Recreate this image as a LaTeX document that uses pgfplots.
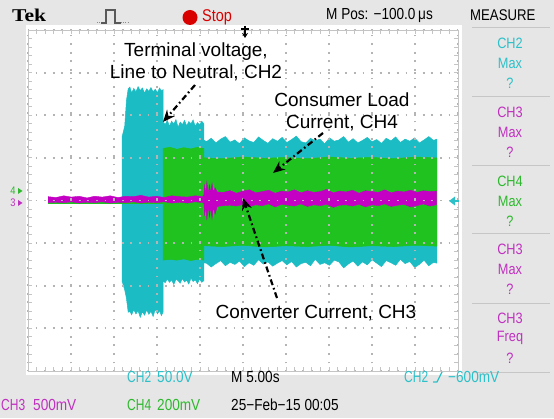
\documentclass[border=0pt]{standalone}
\usepackage{pgfplots}
\pgfplotsset{compat=1.18}
\usetikzlibrary{arrows.meta}
\usepackage{fontspec}
\setmainfont{Liberation Sans}
\newfontfamily\tekui[FakeStretch=0.85]{Liberation Sans}
\newfontfamily\tekch[FakeStretch=0.75]{Liberation Sans}
\newfontfamily\tekfont[FakeStretch=1.2]{Liberation Serif}
\definecolor{bggray}{HTML}{E6E6E6}
\definecolor{ch2}{HTML}{1CBCC4}
\definecolor{ch4}{HTML}{1FC21F}
\definecolor{ch3}{HTML}{C400C4}
\definecolor{ch2t}{HTML}{2CC0C8}
\definecolor{ch3t}{HTML}{C030C0}
\definecolor{ch4t}{HTML}{2DB82D}
\definecolor{gridc}{HTML}{C4C4C4}
\definecolor{dotc}{HTML}{B4B4B4}
\begin{document}
\begin{tikzpicture}[x=1pt,y=1pt]
\useasboundingbox (0,0) rectangle (554,418);
\fill[bggray] (0,0) rectangle (554,418);
\fill[white] (26,43) rectangle (462,393);
\begin{axis}[
  at={(28pt,47pt)}, anchor=south west, scale only axis,
  width=430pt, height=341pt,
  xmin=0, xmax=10, ymin=-4, ymax=4,
  xtick={0,...,10}, ytick={-4,...,4},
  minor x tick num=4, minor y tick num=4,
  xticklabels={}, yticklabels={},
  major tick length=4pt, minor tick length=4pt,
  tick style={draw=gridc, line width=0.9pt},
  axis line style={draw=gridc, line width=0.9pt},
  grid=major,
  major grid style={draw=dotc, line width=1.8pt, dash pattern=on 1.8pt off 6.8pt, dash phase=0.9pt},
  axis on top,
]
% CH2 terminal voltage envelope
\addplot[fill=ch2, draw=ch2, line width=0.5pt] coordinates {
(2.19,-1.9) (2.19,1.5) (2.25,1.75) (2.29,2.35) (2.33,2.62) (2.37,2.66) (2.41,2.52) (2.46,2.63) (2.51,2.55) (2.56,2.67) (2.61,2.58) (2.66,2.64) (2.71,2.52) (2.76,2.62) (2.81,2.56) (2.86,2.65) (2.91,2.55) (2.96,2.61) (3.01,2.53) (3.06,2.64) (3.10,2.57) (3.14,2.60)
(3.14,1.85) (3.19,1.78) (3.24,1.88) (3.29,1.74) (3.34,1.86) (3.39,1.79) (3.44,1.90) (3.49,1.72) (3.54,1.84) (3.59,1.78) (3.64,1.88) (3.69,1.75) (3.74,1.85) (3.79,1.80) (3.84,1.89) (3.89,1.74) (3.94,1.83) (3.99,1.77) (4.04,1.86) (4.09,1.80)
(4.09,1.42)
(4.15,1.38) (4.26,1.46) (4.37,1.35) (4.48,1.44) (4.59,1.50) (4.70,1.37) (4.81,1.42) (4.92,1.33) (5.03,1.47) (5.14,1.40)
(5.25,1.36) (5.36,1.49) (5.47,1.41) (5.58,1.34) (5.69,1.45) (5.80,1.39) (5.91,1.48) (6.02,1.36) (6.13,1.43) (6.24,1.51)
(6.35,1.38) (6.46,1.35) (6.57,1.46) (6.68,1.40) (6.79,1.44) (6.90,1.33) (7.01,1.47) (7.12,1.39) (7.23,1.42) (7.34,1.50)
(7.45,1.37) (7.56,1.45) (7.67,1.35) (7.78,1.41) (7.89,1.48) (8.00,1.38) (8.11,1.43) (8.22,1.34) (8.33,1.46) (8.44,1.40)
(8.55,1.49) (8.66,1.36) (8.77,1.44) (8.88,1.39) (8.99,1.47) (9.10,1.35) (9.21,1.42) (9.32,1.50) (9.43,1.41) (9.51,1.44)
(9.51,-1.47)
(9.43,-1.45) (9.32,-1.53) (9.21,-1.40) (9.10,-1.50) (8.99,-1.57) (8.88,-1.43) (8.77,-1.48) (8.66,-1.38) (8.55,-1.52) (8.44,-1.46)
(8.33,-1.41) (8.22,-1.55) (8.11,-1.47) (8.00,-1.39) (7.89,-1.51) (7.78,-1.44) (7.67,-1.54) (7.56,-1.42) (7.45,-1.49) (7.34,-1.58)
(7.23,-1.44) (7.12,-1.40) (7.01,-1.52) (6.90,-1.46) (6.79,-1.50) (6.68,-1.38) (6.57,-1.53) (6.46,-1.45) (6.35,-1.48) (6.24,-1.56)
(6.13,-1.43) (6.02,-1.51) (5.91,-1.41) (5.80,-1.47) (5.69,-1.54) (5.58,-1.44) (5.47,-1.49) (5.36,-1.39) (5.25,-1.52) (5.14,-1.46)
(5.03,-1.55) (4.92,-1.42) (4.81,-1.50) (4.70,-1.45) (4.59,-1.53) (4.48,-1.41) (4.37,-1.48) (4.26,-1.56) (4.15,-1.47)
(4.09,-1.46) (4.09,-1.88)
(4.04,-1.92) (3.99,-1.84) (3.94,-1.95) (3.89,-1.86) (3.84,-1.90) (3.79,-1.82) (3.74,-1.96) (3.69,-1.87) (3.64,-1.91) (3.59,-1.83) (3.54,-1.94) (3.49,-1.88) (3.44,-1.85) (3.39,-1.97) (3.34,-1.86) (3.29,-1.92) (3.24,-1.84) (3.19,-1.93) (3.14,-1.88)
(3.14,-2.62)
(3.10,-2.70) (3.06,-2.58) (3.01,-2.66) (2.96,-2.55) (2.91,-2.72) (2.86,-2.60) (2.81,-2.67) (2.76,-2.57) (2.71,-2.69) (2.66,-2.61) (2.61,-2.74) (2.56,-2.59) (2.51,-2.66) (2.46,-2.56) (2.41,-2.68) (2.37,-2.60) (2.33,-2.62) (2.29,-2.3) (2.25,-2.1)
} -- cycle;
% CH4 consumer load current envelope
\addplot[fill=ch4, draw=ch4, line width=0.5pt] coordinates {
(3.14,1.22) (3.30,1.25) (3.46,1.20) (3.62,1.24) (3.78,1.21) (3.94,1.25) (4.09,1.22)
(4.09,1.00) (4.50,0.98) (5.00,1.02) (5.50,0.99) (6.00,1.01) (6.50,0.98) (7.00,1.02) (7.50,0.99) (8.00,1.01) (8.50,0.98) (9.00,1.02) (9.51,1.00)
(9.51,-1.07) (9.00,-1.05) (8.50,-1.08) (8.00,-1.06) (7.50,-1.09) (7.00,-1.05) (6.50,-1.08) (6.00,-1.06) (5.50,-1.09) (5.00,-1.05) (4.50,-1.08) (4.09,-1.06)
(4.09,-1.40) (3.94,-1.38) (3.78,-1.41) (3.62,-1.37) (3.46,-1.40) (3.30,-1.38) (3.14,-1.40)
} -- cycle;
\addplot[draw=ch4, line width=2.6pt] coordinates {(0.47,-0.05) (3.14,-0.05)};
% CH3 converter current envelope
\addplot[fill=ch3, draw=ch3, line width=0.4pt] coordinates {
(0.47,0.09) (0.65,0.07) (0.83,0.11) (1.01,0.08) (1.19,0.10) (1.37,0.06) (1.55,0.10) (1.73,0.08) (1.91,0.11) (2.09,0.07) (2.27,0.10) (2.45,0.09) (2.63,0.12) (2.81,0.08) (2.99,0.10) (3.17,0.07) (3.35,0.11) (3.53,0.09) (3.71,0.08) (3.89,0.11) (4.07,0.09)
(4.09,0.12) (4.11,0.38) (4.13,0.14) (4.16,0.44) (4.19,0.16) (4.22,0.36) (4.25,0.18) (4.28,0.40) (4.31,0.20) (4.35,0.30) (4.40,0.20)
(4.55,0.19) (4.70,0.23) (4.85,0.17) (5.00,0.22) (5.15,0.25) (5.30,0.18) (5.45,0.21) (5.60,0.24) (5.75,0.17) (5.90,0.22) (6.05,0.20) (6.20,0.25) (6.35,0.18) (6.50,0.23) (6.65,0.19) (6.80,0.21) (6.95,0.26) (7.10,0.18) (7.25,0.22) (7.40,0.20) (7.55,0.24) (7.70,0.17) (7.85,0.23) (8.00,0.21) (8.15,0.19) (8.30,0.25) (8.45,0.18) (8.60,0.22) (8.75,0.20) (8.90,0.24) (9.05,0.19) (9.20,0.23) (9.35,0.21) (9.50,0.22)
(9.50,-0.10) (9.35,-0.13) (9.20,-0.08) (9.05,-0.12) (8.90,-0.15) (8.75,-0.09) (8.60,-0.11) (8.45,-0.14) (8.30,-0.08) (8.15,-0.12) (8.00,-0.10) (7.85,-0.15) (7.70,-0.09) (7.55,-0.13) (7.40,-0.10) (7.25,-0.11) (7.10,-0.16) (6.95,-0.09) (6.80,-0.12) (6.65,-0.10) (6.50,-0.14) (6.35,-0.08) (6.20,-0.13) (6.05,-0.11) (5.90,-0.09) (5.75,-0.15) (5.60,-0.08) (5.45,-0.12) (5.30,-0.10) (5.15,-0.14) (5.00,-0.09) (4.85,-0.13) (4.70,-0.11) (4.55,-0.12)
(4.40,-0.14) (4.35,-0.32) (4.31,-0.16) (4.28,-0.42) (4.25,-0.15) (4.22,-0.38) (4.19,-0.14) (4.16,-0.46) (4.13,-0.12) (4.11,-0.36) (4.09,-0.06)
(4.07,-0.05) (3.89,-0.03) (3.71,-0.06) (3.53,-0.04) (3.35,-0.06) (3.17,-0.03) (2.99,-0.05) (2.81,-0.04) (2.63,-0.06) (2.45,-0.03) (2.27,-0.05) (2.09,-0.04) (1.91,-0.06) (1.73,-0.03) (1.55,-0.05) (1.37,-0.04) (1.19,-0.06) (1.01,-0.03) (0.83,-0.05) (0.65,-0.04) (0.47,-0.05)
} -- cycle;
\end{axis}
% annotations
\begin{scope}[font=\fontsize{19}{22}\selectfont]
\node[align=center] at (196,356) {Terminal voltage,\\Line to Neutral, CH2};
\node[align=center] at (342,306) {Consumer Load\\Current, CH4};
\node at (316,105) {Converter Current, CH3};
\end{scope}
\begin{scope}[line width=2.2pt, dash pattern=on 6pt off 3pt on 1.6pt off 3pt]
\draw[-{Stealth[length=12pt,width=10pt]}] (195,333) -- (163,296);
\draw[-{Stealth[length=12pt,width=10pt]}] (323,285) -- (273,245);
\draw[-{Stealth[length=12pt,width=10pt]}] (277,120) -- (243,220);
\end{scope}
% top bar
\node[anchor=west, inner sep=0pt, font=\tekfont\bfseries\fontsize{18}{18}\selectfont] at (12,403) {Tek};
\draw[black!65, line width=1.1pt] (101,395) -- (106,395) -- (106,408) -- (115,408) -- (115,395) -- (121,395);
\draw[black!45, line width=1pt, dash pattern=on 1pt off 1.2pt] (97,395) -- (101,395);
\draw[black!45, line width=1pt, dash pattern=on 1pt off 1.2pt] (121,395) -- (128,395);
\fill[red!85!black] (190,400.5) circle (7.5);
\node[anchor=west, inner sep=0pt, text=red!85!black, font=\tekui\fontsize{17}{17}\selectfont] at (202,401) {Stop};
\node[anchor=west, inner sep=0pt, font=\tekui\fontsize{16}{16}\selectfont] at (326,403) {M Pos: −100.0\,μs};
\node[anchor=west, inner sep=0pt, font=\tekui\fontsize{15.5}{16}\selectfont] at (470,403) {MEASURE};
\draw[black, line width=1.2pt, -{Stealth[length=5pt,width=6pt]}] (245,392) -- (245,380);
\draw[black, line width=1.2pt] (241,389) -- (249,389);
% right panel
\foreach \t in {28,97,166,234,303,372}{\draw[gray!45, line width=1pt] (472,418-\t) -- (550,418-\t);}
\begin{scope}[font=\tekui\fontsize{15}{16}\selectfont]
\node[text=ch2t] at (510,418-43) {CH2}; \node[text=ch2t] at (510,418-63) {Max}; \node[text=ch2t] at (510,418-83) {?};
\node[text=ch3t] at (510,418-112) {CH3}; \node[text=ch3t] at (510,418-132) {Max}; \node[text=ch3t] at (510,418-152) {?};
\node[text=ch4t] at (510,418-181) {CH4}; \node[text=ch4t] at (510,418-201) {Max}; \node[text=ch4t] at (510,418-221) {?};
\node[text=ch3t] at (510,418-249) {CH3}; \node[text=ch3t] at (510,418-269) {Max}; \node[text=ch3t] at (510,418-289) {?};
\node[text=ch3t] at (510,418-318) {CH3}; \node[text=ch3t] at (510,418-338) {Freq}; \node[text=ch3t] at (510,418-358) {?};
\end{scope}
% left and right markers
\node[text=ch4t, inner sep=0pt, font=\tekui\fontsize{11}{11}\selectfont] at (13,227) {4};
\fill[ch4t] (18,230) -- (22.5,227) -- (18,224) -- cycle;
\node[text=ch3t, inner sep=0pt, font=\tekui\fontsize{11}{11}\selectfont] at (13,215) {3};
\fill[ch3t] (18,218) -- (22.5,215) -- (18,212) -- cycle;
\fill[ch2t] (449,217) -- (455,221.5) -- (455,212.5) -- cycle;
\draw[ch2t, line width=2pt] (454,217) -- (459,217);
% bottom bar
\begin{scope}[font=\tekui\fontsize{16}{16}\selectfont, inner sep=0pt]
\node[anchor=west, text=ch2t, font=\tekch\fontsize{16}{16}\selectfont] at (127,41) {CH2};
\node[anchor=west, text=ch2t] at (157,41) {50.0V};
\node[anchor=west] at (231,41) {M 5.00s};
\node[anchor=west, text=ch2t, font=\tekch\fontsize{16}{16}\selectfont] at (404,41) {CH2};
\draw[ch2t, line width=1.2pt] (433,36) -- (437,36) -- (442,46);
\node[anchor=west, text=ch2t] at (448,41) {−600mV};
\node[anchor=west, text=ch3t, font=\tekch\fontsize{16}{16}\selectfont] at (1,13) {CH3};
\node[anchor=west, text=ch3t] at (33,13) {500mV};
\node[anchor=west, text=ch4t, font=\tekch\fontsize{16}{16}\selectfont] at (127,13) {CH4};
\node[anchor=west, text=ch4t] at (157,13) {200mV};
\node[anchor=west] at (231,13) {25−Feb−15 00:05};
\end{scope}
\end{tikzpicture}
\end{document}
